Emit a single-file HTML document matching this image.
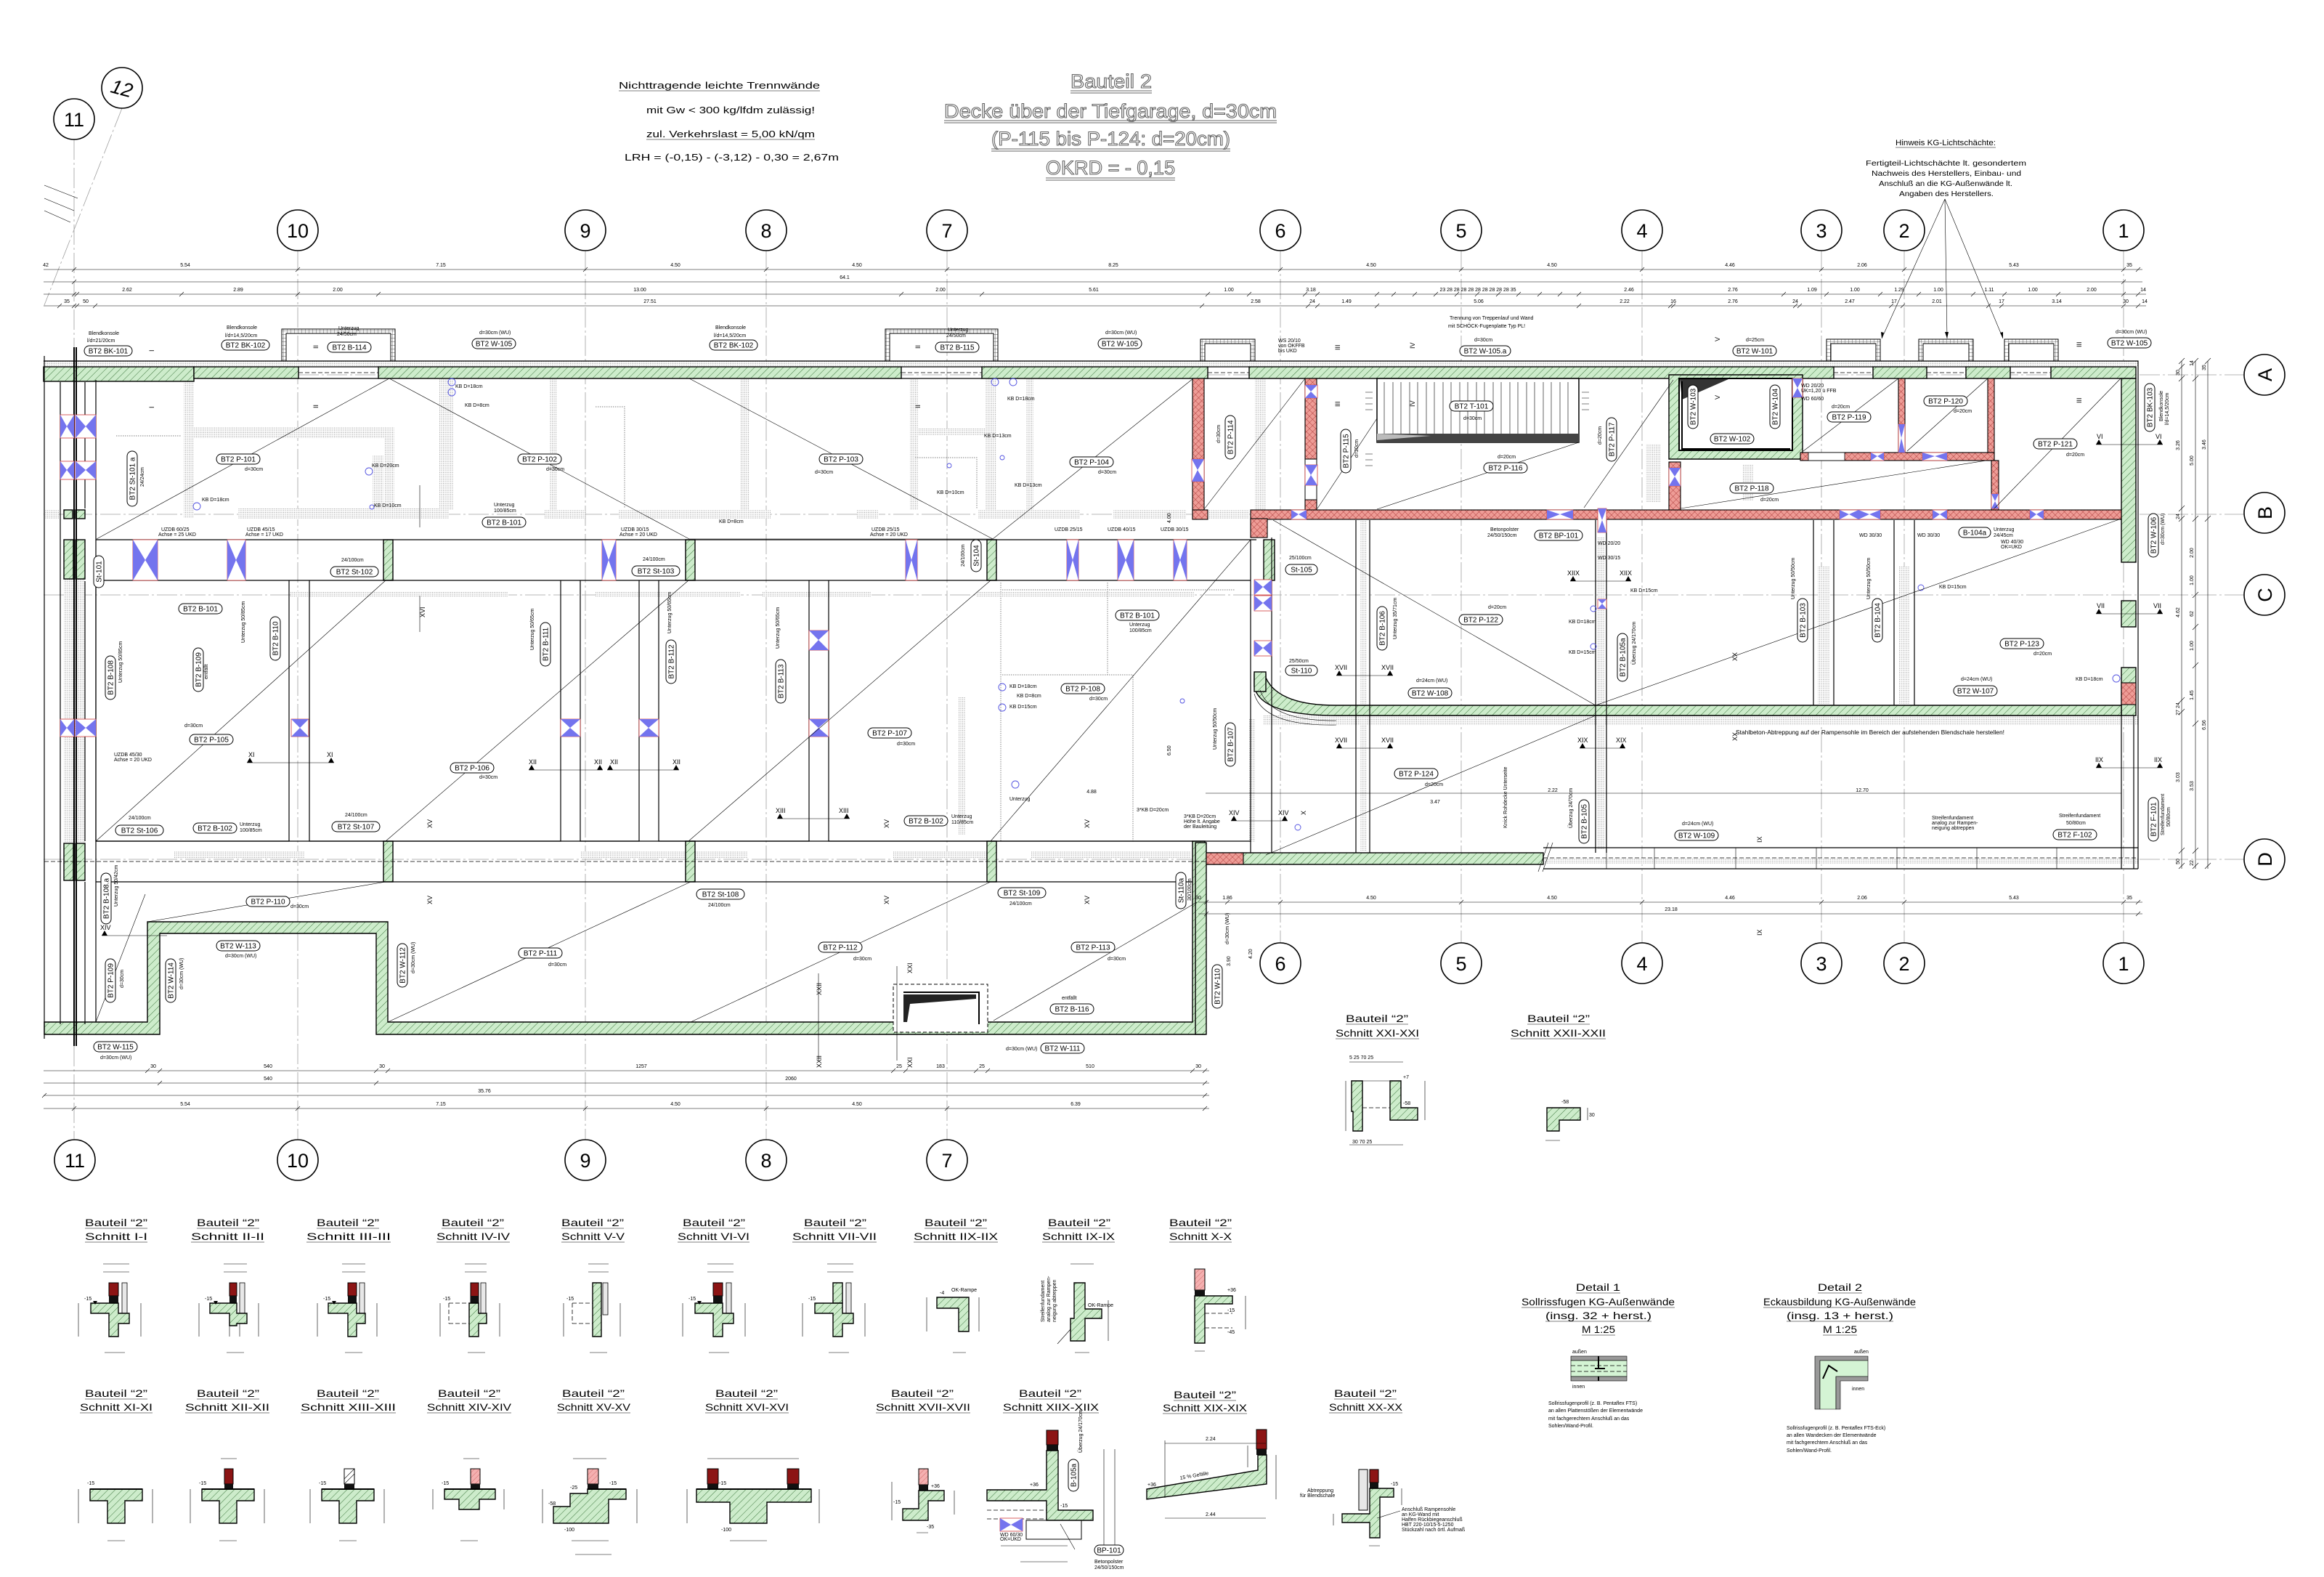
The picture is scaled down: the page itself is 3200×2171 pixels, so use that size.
<!DOCTYPE html>
<html><head><meta charset="utf-8"><title>Bauteil 2 - Decke über der Tiefgarage</title>
<style>
html,body{margin:0;padding:0;background:#fff}
svg{display:block}
text{font-family:"Liberation Sans Narrow","Liberation Sans",sans-serif;fill:#000}
.s{font-size:7px}.m{font-size:10px}.n{font-size:8.5px}
.bd rect{fill:#fff;stroke:#000;stroke-width:1}
.bd text{font-size:10px;text-anchor:middle}
.g{fill:url(#gh);stroke:#000;stroke-width:1.4}
.r{fill:url(#rh);stroke:#000;stroke-width:1.1}
.d{fill:url(#dt);stroke:none}
.ln{stroke:#000;fill:none;stroke-width:1.2}
.lk{stroke:#000;fill:none;stroke-width:2}
.th{stroke:#000;fill:none;stroke-width:0.6}
.gr{stroke:#a0a0a0;fill:none;stroke-width:0.8;stroke-dasharray:28 4 3 4}
.dl{stroke:#999;fill:none;stroke-width:1.2;stroke-dasharray:1.5 1.5}
.ds{stroke:#000;fill:none;stroke-width:0.8;stroke-dasharray:6 3}
.bub circle{fill:#fff;stroke:#000;stroke-width:1.6}
.bub text{font-size:27px;text-anchor:middle}
.tt{font-family:"Liberation Sans",sans-serif;font-size:27px;fill:#fff;stroke:#666;stroke-width:1.1;text-anchor:start}
.st{font-size:14px}
.ob{fill:#7474ee}
.oe{fill:#fff;stroke:#d03a3a;stroke-width:0.8}
</style></head><body>
<svg width="3200" height="2171" viewBox="0 0 3200 2171" xmlns="http://www.w3.org/2000/svg">
<defs>
<pattern id="gh" width="7" height="7" patternUnits="userSpaceOnUse" patternTransform="rotate(45)"><rect width="7" height="7" fill="#cdeccb"/><line x1="0" y1="0" x2="0" y2="7" stroke="#2f6b2f" stroke-width="0.9"/></pattern>
<pattern id="rh" width="6" height="6" patternUnits="userSpaceOnUse" patternTransform="rotate(45)"><rect width="6" height="6" fill="#ee9c96"/><path d="M0 0V6M0 0H6" stroke="#a02828" stroke-width="0.8"/></pattern>
<pattern id="dt" width="2.5" height="2.5" patternUnits="userSpaceOnUse"><rect width="2.5" height="2.5" fill="#fff"/><rect width="1.1" height="1.1" fill="#a4a4a4"/></pattern>
<pattern id="gp" width="5" height="5" patternUnits="userSpaceOnUse"><rect width="5" height="5" fill="#fff"/><path d="M0 0H5M0 0V5" stroke="#333" stroke-width="0.7"/></pattern>
<pattern id="ph" width="5" height="5" patternUnits="userSpaceOnUse" patternTransform="rotate(45)"><rect width="5" height="5" fill="#f4b0b0"/><line x1="0" y1="0" x2="0" y2="5" stroke="#c04040" stroke-width="0.6"/></pattern>
</defs>
<rect width="3200" height="2171" fill="#fff"/>

<!-- ===== Header notes ===== -->
<text x="852" y="122" font-size="13" textLength="277" lengthAdjust="spacingAndGlyphs">Nichttragende leichte Trennwände</text>
<line x1="852" y1="125" x2="1129" y2="125" class="th"/>
<text x="890" y="156" font-size="13" textLength="232" lengthAdjust="spacingAndGlyphs">mit Gw &lt; 300 kg/lfdm zulässig!</text>
<text x="890" y="189" font-size="13" textLength="232" lengthAdjust="spacingAndGlyphs">zul. Verkehrslast = 5,00 kN/qm</text>
<line x1="890" y1="192" x2="1122" y2="192" class="th"/>
<text x="860" y="221" font-size="13" textLength="295" lengthAdjust="spacingAndGlyphs">LRH = (-0,15) - (-3,12) - 0,30 = 2,67m</text>

<text class="tt" x="1474" y="121" textLength="112" lengthAdjust="spacingAndGlyphs">Bauteil 2</text>
<path d="M1474 125H1586M1474 128H1586" stroke="#666" stroke-width="1"/>
<text class="tt" x="1300" y="162" textLength="458" lengthAdjust="spacingAndGlyphs">Decke über der Tiefgarage, d=30cm</text>
<path d="M1300 166H1758M1300 169H1758" stroke="#666" stroke-width="1"/>
<text class="tt" x="1365" y="200" textLength="329" lengthAdjust="spacingAndGlyphs">(P-115 bis P-124: d=20cm)</text>
<path d="M1365 205H1694M1365 208H1694" stroke="#666" stroke-width="1"/>
<text class="tt" x="1440" y="240" textLength="178" lengthAdjust="spacingAndGlyphs">OKRD = - 0,15</text>
<path d="M1440 245H1618M1440 248H1618" stroke="#666" stroke-width="1"/>

<text x="2610" y="200" font-size="11" textLength="138" lengthAdjust="spacingAndGlyphs">Hinweis KG-Lichtschächte:</text>
<line x1="2610" y1="203" x2="2748" y2="203" class="th"/>
<text x="2569" y="228" font-size="10" textLength="221" lengthAdjust="spacingAndGlyphs">Fertigteil-Lichtschächte lt. gesondertem</text>
<text x="2577" y="242" font-size="10" textLength="206" lengthAdjust="spacingAndGlyphs">Nachweis des Herstellers, Einbau- und</text>
<text x="2587" y="256" font-size="10" textLength="184" lengthAdjust="spacingAndGlyphs">Anschluß an die KG-Außenwände lt.</text>
<text x="2615" y="270" font-size="10" textLength="130" lengthAdjust="spacingAndGlyphs">Angaben des Herstellers.</text>
<path class="th" d="M2678 274L2591 466M2678 274L2681 466M2678 274L2758 466"/>
<path d="M2591 466l-1-9 4 1zM2681 466l-3-9h5zM2758 466l-4-8 4-1z"/>

<!-- ===== grid lines ===== -->
<g class="gr">
<path d="M102 192V1569M168 149L61 420"/>
<path d="M410 345V1569M806 345V1569M1055 345V1569M1304 345V1569"/>
<path d="M1763 345V1298M2012 345V1298M2261 345V1298M2508 345V1298M2622 345V1298M2924 345V1298"/>
<path d="M60 516H3090M60 708H3090M60 819H3090M60 1183H3090"/>
</g>
<path class="th" d="M61 255L107 273M61 273L102 290M61 290L97 306"/>

<!-- ===== Bubbles ===== -->
<g class="bub">
<circle cx="102" cy="164" r="28"/><text x="102" y="174">11</text>
<circle cx="168" cy="121" r="28"/><text x="168" y="131" transform="rotate(15 168 121)" font-style="italic">12</text>
<circle cx="410" cy="317" r="28"/><text x="410" y="327">10</text>
<circle cx="806" cy="317" r="28"/><text x="806" y="327">9</text>
<circle cx="1055" cy="317" r="28"/><text x="1055" y="327">8</text>
<circle cx="1304" cy="317" r="28"/><text x="1304" y="327">7</text>
<circle cx="1763" cy="317" r="28"/><text x="1763" y="327">6</text>
<circle cx="2012" cy="317" r="28"/><text x="2012" y="327">5</text>
<circle cx="2261" cy="317" r="28"/><text x="2261" y="327">4</text>
<circle cx="2508" cy="317" r="28"/><text x="2508" y="327">3</text>
<circle cx="2622" cy="317" r="28"/><text x="2622" y="327">2</text>
<circle cx="2924" cy="317" r="28"/><text x="2924" y="327">1</text>
<circle cx="1763" cy="1326" r="28"/><text x="1763" y="1336">6</text>
<circle cx="2012" cy="1326" r="28"/><text x="2012" y="1336">5</text>
<circle cx="2261" cy="1326" r="28"/><text x="2261" y="1336">4</text>
<circle cx="2508" cy="1326" r="28"/><text x="2508" y="1336">3</text>
<circle cx="2622" cy="1326" r="28"/><text x="2622" y="1336">2</text>
<circle cx="2924" cy="1326" r="28"/><text x="2924" y="1336">1</text>
<circle cx="103" cy="1597" r="28"/><text x="103" y="1607">11</text>
<circle cx="410" cy="1597" r="28"/><text x="410" y="1607">10</text>
<circle cx="806" cy="1597" r="28"/><text x="806" y="1607">9</text>
<circle cx="1055" cy="1597" r="28"/><text x="1055" y="1607">8</text>
<circle cx="1304" cy="1597" r="28"/><text x="1304" y="1607">7</text>
<circle cx="3118" cy="516" r="28"/><text x="3118" y="526" transform="rotate(-90 3118 516)">A</text>
<circle cx="3118" cy="706" r="28"/><text x="3118" y="716" transform="rotate(-90 3118 706)">B</text>
<circle cx="3118" cy="819" r="28"/><text x="3118" y="829" transform="rotate(-90 3118 819)">C</text>
<circle cx="3118" cy="1183" r="28"/><text x="3118" y="1193" transform="rotate(-90 3118 1183)">D</text>
</g>

<!-- ===== Top dimension chains ===== -->
<g class="th">
<path d="M60 371H2950M60 388H2950M60 405H2955M60 421H2955"/>
<path d="M99 374l6-6M407 374l6-6M803 374l6-6M1052 374l6-6M1301 374l6-6M1760 374l6-6M2009 374l6-6M2258 374l6-6M2505 374l6-6M2619 374l6-6M2921 374l6-6M2941 374l6-6"/>
<path d="M99 391l6-6M2921 391l6-6"/>
<path d="M99 408l6-6M103 408l6-6M247 408l6-6M407 408l6-6M518 408l6-6M1238 408l6-6M1349 408l6-6M1660 408l6-6M1717 408l6-6M1794 408l6-6M1811 408l6-6M1893 408l6-6M1916 408l6-6M1945 408l6-6M1974 408l6-6M2003 408l6-6M2031 408l6-6M2060 408l6-6M2088 408l6-6M2117 408l6-6M2145 408l6-6M2171 408l6-6M2453 408l6-6M2512 408l6-6M2586 408l6-6M2639 408l6-6M2714 408l6-6M2757 408l6-6M2831 408l6-6M2921 408l6-6M2941 408l6-6"/>
<path d="M79 424l6-6M99 424l6-6M103 424l6-6M128 424l6-6M1652 424l6-6M1798 424l6-6M1811 424l6-6M1893 424l6-6M2171 424l6-6M2297 424l6-6M2301 424l6-6M2469 424l6-6M2475 424l6-6M2601 424l6-6M2617 424l6-6M2735 424l6-6M2753 424l6-6M2921 424l6-6M2941 424l6-6"/>
</g>
<g class="s" text-anchor="middle">
<text x="63" y="367">42</text><text x="255" y="367">5.54</text><text x="607" y="367">7.15</text><text x="930" y="367">4.50</text><text x="1180" y="367">4.50</text><text x="1533" y="367">8.25</text><text x="1888" y="367">4.50</text><text x="2137" y="367">4.50</text><text x="2382" y="367">4.46</text><text x="2564" y="367">2.06</text><text x="2773" y="367">5.43</text><text x="2932" y="367">35</text>
<text x="1163" y="384">64.1</text>
<text x="175" y="401">2.62</text><text x="328" y="401">2.89</text><text x="465" y="401">2.00</text><text x="881" y="401">13.00</text><text x="1295" y="401">2.00</text><text x="1506" y="401">5.61</text><text x="1692" y="401">1.00</text><text x="1805" y="401">3.18</text><text x="2035" y="401">23 28 28 28 28 28 28 28 28 28 35</text><text x="2243" y="401">2.46</text><text x="2386" y="401">2.76</text><text x="2495" y="401">1.09</text><text x="2554" y="401">1.00</text><text x="2615" y="401">1.29</text><text x="2669" y="401">1.00</text><text x="2739" y="401">1.11</text><text x="2799" y="401">1.00</text><text x="2880" y="401">2.00</text><text x="2951" y="401">14</text>
<text x="92" y="417">35</text><text x="118" y="417">50</text><text x="895" y="417">27.51</text><text x="1729" y="417">2.58</text><text x="1807" y="417">24</text><text x="1854" y="417">1.49</text><text x="2036" y="417">5.06</text><text x="2237" y="417">2.22</text><text x="2304" y="417">16</text><text x="2386" y="417">2.76</text><text x="2472" y="417">24</text><text x="2547" y="417">2.47</text><text x="2608" y="417">17</text><text x="2667" y="417">2.01</text><text x="2756" y="417">17</text><text x="2832" y="417">3.14</text><text x="2927" y="417">30</text><text x="2953" y="417">14</text>
</g>

<!-- ===== Light shafts ===== -->
<g fill="url(#gp)" stroke="#000" stroke-width="1" fill-rule="evenodd">
<path d="M388 453H544V505H538V459H394V505H388Z"/>
<path d="M1219 453H1374V505H1368V459H1225V505H1219Z"/>
<path d="M1653 467H1728V505H1722V473H1659V505H1653Z"/>
<path d="M2515 467H2589V505H2583V473H2521V505H2515Z"/>
<path d="M2642 467H2717V505H2711V473H2648V505H2642Z"/>
<path d="M2760 467H2834V505H2828V473H2766V505H2760Z"/>
</g>

<!-- ===== stipple bands ===== -->
<g class="d">
<rect x="60" y="497" width="2884" height="8"/>
<rect x="253" y="521" width="14" height="192"/><rect x="612" y="521" width="12" height="181"/><rect x="757" y="521" width="10" height="181"/><rect x="1020" y="521" width="12" height="181"/><rect x="1253" y="521" width="12" height="181"/><rect x="1413" y="521" width="10" height="181"/>
<rect x="253" y="588" width="290" height="15"/><rect x="530" y="588" width="13" height="125"/><rect x="513" y="627" width="15" height="86"/><rect x="605" y="520" width="13" height="195"/>
<rect x="1255" y="590" width="117" height="10"/><rect x="1357" y="521" width="15" height="190"/>
<rect x="328" y="700" width="290" height="15"/><rect x="61" y="702" width="20" height="12"/>
<rect x="750" y="702" width="56" height="12"/><rect x="852" y="702" width="209" height="12"/><rect x="1180" y="702" width="30" height="12"/><rect x="1347" y="702" width="140" height="12"/><rect x="1533" y="702" width="100" height="12"/>
<rect x="400" y="814" width="300" height="8"/><rect x="820" y="814" width="200" height="8"/><rect x="1050" y="814" width="150" height="8"/><rect x="1345" y="814" width="300" height="8"/>
<rect x="240" y="1172" width="180" height="10"/><rect x="800" y="1172" width="230" height="10"/><rect x="1230" y="1172" width="140" height="10"/><rect x="1420" y="1172" width="220" height="10"/>
<rect x="88" y="780" width="29" height="380"/>
<rect x="1728" y="521" width="15" height="181"/><rect x="1873" y="716" width="9" height="455"/><rect x="2200" y="740" width="10" height="430"/><rect x="2503" y="780" width="17" height="190"/><rect x="2614" y="780" width="16" height="190"/><rect x="2266" y="611" width="20" height="80"/><rect x="2400" y="640" width="14" height="50"/>
<rect x="1740" y="985" width="1204" height="13"/>
<rect x="2125" y="1181" width="819" height="9"/>
<rect x="1661" y="702" width="59" height="12"/>
<rect x="1320" y="960" width="10" height="190"/><rect x="1720" y="990" width="8" height="170"/>
</g>
<g class="dl">
<path d="M1378 802V1159M1380 929H1560M1525 802V929M1560 929V1158M1380 812H1700"/>
<path d="M1260 630H1345V700M820 560H860V700M160 600H250"/>
</g>

<!-- ===== Main walls (green) ===== -->
<g class="g">
<rect x="60" y="505" width="207" height="20"/>
<rect x="267" y="505" width="144" height="16"/>
<rect x="521" y="505" width="720" height="16"/>
<rect x="1352" y="505" width="311" height="16"/>
<rect x="1720" y="505" width="805" height="16"/>
<rect x="2579" y="505" width="74" height="16"/>
<rect x="2707" y="505" width="61" height="16"/>
<rect x="2824" y="505" width="117" height="16"/>
<rect x="2921" y="521" width="20" height="253"/>
<rect x="2921" y="827" width="20" height="36"/>
<rect x="2921" y="919" width="20" height="66"/>
<path d="M61 1407H203V1269H534V1407H1642V1158H1659V1424H518V1285H220V1424H61Z"/>
<path d="M1743 933Q1760 971 1840 971H2921V985H1840Q1735 985 1727 945V928H1743Z"/>
<rect x="1661" y="1174" width="464" height="16"/>
<rect x="1646" y="1160" width="15" height="264"/>
<path fill-rule="evenodd" d="M2298 516H2482V632H2298ZM2312 521H2468V620H2312Z"/>
<rect x="1727" y="925" width="16" height="27"/>
<rect x="1740" y="743" width="15" height="56"/>
<rect x="88" y="743" width="13" height="54"/><rect x="104" y="743" width="13" height="54"/>
<rect x="88" y="1161" width="13" height="51"/><rect x="104" y="1161" width="13" height="51"/>
<rect x="88" y="702" width="12" height="12"/><rect x="104" y="702" width="13" height="12"/>
<rect x="528" y="743" width="13" height="56"/><rect x="944" y="743" width="13" height="56"/><rect x="1359" y="743" width="13" height="56"/>
<rect x="528" y="1158" width="13" height="56"/><rect x="944" y="1158" width="13" height="56"/><rect x="1359" y="1158" width="13" height="56"/>
</g>
<!-- gaps under shafts -->
<g class="ds"><path d="M411 513H521M1241 513H1352M1663 513H1720M2525 513H2579M2653 513H2707M2768 513H2824"/></g>
<path class="ln" d="M60 497H2944V1196M411 505H521M411 521H521M1241 505H1352M1241 521H1352M1663 505H1720M1663 521H1720M2525 505H2579M2525 521H2579M2653 505H2707M2653 521H2707M2768 505H2824M2768 521H2824"/>

<!-- ===== Red brick walls ===== -->
<g class="r">
<rect x="1642" y="521" width="16" height="193"/>
<rect x="1797" y="521" width="16" height="111"/>
<rect x="1797" y="688" width="16" height="26"/>
<rect x="1722" y="702" width="1199" height="13"/>
<rect x="1642" y="702" width="21" height="13"/>
<rect x="1722" y="714" width="23" height="26"/>
<rect x="2614" y="521" width="9" height="102"/>
<rect x="2737" y="521" width="9" height="113"/>
<rect x="2479" y="623" width="267" height="11"/>
<rect x="2298" y="636" width="16" height="66"/>
<rect x="2742" y="634" width="10" height="68"/>
<rect x="1661" y="1174" width="51" height="16"/>
<rect x="2921" y="940" width="20" height="30"/>
</g>
<rect x="1797" y="632" width="16" height="56" fill="#fff" stroke="#000"/>
<rect x="2490" y="623" width="50" height="11" fill="#fff" stroke="#000" stroke-width=".8"/>

<!-- Stair -->
<rect x="1896" y="521" width="278" height="88" fill="#fff" stroke="#000" stroke-width="1.5"/>
<path class="th" d="M1906 526V597M1918 526V597M1929 526V597M1941 526V597M1952 526V597M1964 526V597M1975 526V597M1987 526V597M1998 526V597M2010 526V597M2021 526V597M2033 526V597M2044 526V597M2056 526V597M2067 526V597M2079 526V597M2090 526V597M2102 526V597M2113 526V597M2125 526V597M2136 526V597M2148 526V597M2159 526V597"/>
<path d="M1896 597H2174L2174 609H1896Z" fill="#444"/>
<path d="M1896 597L1970 600L1896 606Z" fill="#bbb"/>
<path class="th" d="M1880 540h10M1880 548h10M1880 556h10M1880 564h10M2178 540h10M2178 548h10M2178 556h10M2178 564h10M1880 625h10M1880 633h10M1880 641h10"/>
<!-- elevator inner -->
<path d="M2312 521H2468V620H2312Z" fill="#fff" stroke="#000" stroke-width="2"/>
<path d="M2313 522L2380 522L2316 550Z" fill="#333"/>
<path class="lk" d="M2316 525V618H2465"/>

<!-- ===== left structure lines ===== -->
<path class="lk" d="M102 478V1440M105 478V1440"/>
<path class="ln" d="M61 490V1430M83 526V1410M117 526V700M132 523V1407M117 800V1158M117 1214V1410"/>
<!-- row B band -->
<path class="ln" d="M132 743H1730M132 799H1722"/>
<!-- rooms -->
<path class="ln" d="M132 799V1158H398V799M426 799V1158H772V799M799 799V1158H880V799M907 799V1158H1114V799M1141 799V1158H1722"/>
<path class="ln" d="M132 1158H1642M132 1214H1642"/>
<path class="ds" d="M61 1186H1660"/>
<path class="ln" d="M1722 743V1174M1751 740V1174M1867 716V1174M1886 716V1174M2197 716V1174M2212 716V1174M2497 716V971M2525 716V971M2608 716V971M2636 716V971"/>
<!-- right lower -->
<path class="ln" d="M2125 1167H2944M2125 1196H2944M2921 985V1196M2938 985V1196"/>
<path class="ds" d="M2125 1181H2944"/>
<path class="th" d="M2212 1167V1196M2278 1167V1196M2390 1167V1196M2501 1167V1196M2612 1167V1196M2722 1167V1196M2832 1167V1196M2118 1200L2132 1160M2124 1200L2138 1160"/>
<path class="th" d="M1727 955Q1740 1000 1840 998M1735 950Q1750 993 1840 992"/>
<path class="th" d="M1660 1092H2921"/>
<!-- opening box in W-111 -->
<rect x="1230" y="1355" width="130" height="66" fill="#fff" stroke="#000" stroke-dasharray="5 3"/>
<path d="M1244 1369H1344V1375L1253 1382L1249 1407H1244Z" fill="#222"/>
<path class="lk" d="M1244 1366H1348V1410"/>

<!-- ===== Openings (bowties) ===== -->
<g>
<g class="oe"><rect x="183" y="743" width="34" height="56"/><rect x="313" y="743" width="25" height="56"/><rect x="829" y="743" width="19" height="56"/><rect x="1247" y="743" width="16" height="56"/><rect x="1469" y="743" width="16" height="56"/><rect x="1539" y="743" width="22" height="56"/><rect x="1616" y="743" width="18" height="56"/>
<rect x="83" y="571" width="19" height="32"/><rect x="104" y="571" width="28" height="32"/><rect x="83" y="635" width="19" height="25"/><rect x="104" y="635" width="28" height="25"/><rect x="83" y="990" width="19" height="24"/><rect x="104" y="990" width="28" height="24"/>
<rect x="1778" y="702" width="21" height="13"/><rect x="2130" y="702" width="36" height="13"/><rect x="2533" y="702" width="26" height="13"/><rect x="2559" y="702" width="30" height="13"/><rect x="2661" y="702" width="20" height="13"/><rect x="2795" y="702" width="19" height="13"/>
<rect x="1727" y="798" width="24" height="21"/><rect x="1727" y="820" width="24" height="21"/><rect x="1727" y="882" width="24" height="21"/>
<rect x="2576" y="623" width="18" height="11"/><rect x="2647" y="623" width="34" height="11"/>
</g>
<path class="ob" d="M183 743L200 771L183 799ZM217 743L200 771L217 799ZM313 743L325 771L313 799ZM338 743L325 771L338 799ZM829 743L838 771L829 799ZM848 743L838 771L848 799ZM1247 743L1255 771L1247 799ZM1263 743L1255 771L1263 799ZM1469 743L1477 771L1469 799ZM1485 743L1477 771L1485 799ZM1539 743L1550 771L1539 799ZM1561 743L1550 771L1561 799ZM1616 743L1625 771L1616 799ZM1634 743L1625 771L1634 799Z"/>
<path class="ob" d="M83 571L92 587L83 603ZM102 571L92 587L102 603ZM104 571L118 587L104 603ZM132 571L118 587L132 603ZM83 635L92 647L83 660ZM102 635L92 647L102 660ZM104 635L118 647L104 660ZM132 635L118 647L132 660ZM83 990L92 1002L83 1014ZM102 990L92 1002L102 1014ZM104 990L118 1002L104 1014ZM132 990L118 1002L132 1014Z"/>
<path class="ob" d="M1778 702L1788 708L1778 715ZM1799 702L1788 708L1799 715ZM2130 702L2148 708L2130 715ZM2166 702L2148 708L2166 715ZM2533 702L2546 708L2533 715ZM2559 702L2546 708L2559 715ZM2559 702L2574 708L2559 715ZM2589 702L2574 708L2589 715ZM2661 702L2671 708L2661 715ZM2681 702L2671 708L2681 715ZM2795 702L2804 708L2795 715ZM2814 702L2804 708L2814 715Z"/>
<path class="ob" d="M1727 798L1739 808L1727 819ZM1751 798L1739 808L1751 819ZM1727 820L1739 830L1727 841ZM1751 820L1739 830L1751 841ZM1727 882L1739 892L1727 903ZM1751 882L1739 892L1751 903ZM2576 623L2585 628L2576 634ZM2594 623L2585 628L2594 634ZM2647 623L2664 628L2647 634ZM2681 623L2664 628L2681 634Z"/>
<g class="oe"><rect x="401" y="990" width="24" height="24"/><rect x="772" y="990" width="27" height="24"/><rect x="880" y="990" width="27" height="24"/><rect x="1114" y="868" width="27" height="27"/><rect x="1114" y="990" width="27" height="24"/>
<rect x="1641" y="632" width="17" height="31"/><rect x="1797" y="530" width="17" height="18"/><rect x="1797" y="640" width="17" height="28"/><rect x="2200" y="700" width="12" height="33"/><rect x="2200" y="825" width="12" height="13"/><rect x="2298" y="644" width="16" height="25"/><rect x="2468" y="521" width="14" height="26"/><rect x="2742" y="680" width="10" height="20"/><rect x="2614" y="584" width="9" height="39"/></g>
<path class="ob" d="M401 990H425L413 1002ZM401 1014H425L413 1002ZM772 990H799L785 1002ZM772 1014H799L785 1002ZM880 990H907L893 1002ZM880 1014H907L893 1002ZM1114 868H1141L1127 881ZM1114 895H1141L1127 881ZM1114 990H1141L1127 1002ZM1114 1014H1141L1127 1002Z"/>
<path class="ob" d="M1641 632H1658L1649 647ZM1641 663H1658L1649 647ZM1797 530H1814L1805 539ZM1797 548H1814L1805 539ZM1797 640H1814L1805 654ZM1797 668H1814L1805 654ZM2200 700H2212L2206 716ZM2200 733H2212L2206 716ZM2200 825H2212L2206 831ZM2200 838H2212L2206 831ZM2298 644H2314L2306 656ZM2298 669H2314L2306 656ZM2468 521H2482L2475 534ZM2468 547H2482L2475 534ZM2742 680H2752L2747 690ZM2742 700H2752L2747 690ZM2614 584H2623L2618 603ZM2614 623H2623L2618 603Z"/>
</g>

<!-- KB circles -->
<g stroke="#5050e0" fill="none" stroke-width="0.9">
<circle cx="271" cy="697" r="5"/><circle cx="508" cy="649" r="5"/><circle cx="512" cy="698" r="3"/><circle cx="622" cy="526" r="5"/><circle cx="622" cy="540" r="5"/><circle cx="1307" cy="641" r="3"/><circle cx="1380" cy="630" r="3"/><circle cx="1370" cy="526" r="5"/><circle cx="1395" cy="526" r="5"/>
<circle cx="1380" cy="946" r="5"/><circle cx="1380" cy="974" r="5"/><circle cx="1398" cy="1080" r="5"/><circle cx="1628" cy="965" r="3"/>
<circle cx="2194" cy="838" r="4"/><circle cx="2194" cy="890" r="4"/><circle cx="2645" cy="809" r="4"/><circle cx="2914" cy="934" r="5"/><circle cx="1787" cy="1139" r="4"/>
</g>

<!-- ===== diagonal slab lines ===== -->
<g class="th">
<path d="M133 742L536 521L949 742L1367 742L1643 521M949 521L1367 742"/>
<path d="M132 1158L531 799M531 1158L948 799M948 1158L1364 799M1364 1158L1722 743"/>
<path d="M203 1269L531 1214M534 1407L951 1214M951 1407L1364 1214M1368 1405L1648 1242M132 1407L200 1231"/>
<path d="M1658 701L1797 521M1814 700L1896 576M1896 701L2174 609M2181 699L2304 523"/>
<path d="M2314 700L2735 634M2483 621L2614 521M2626 621L2737 521M2746 700L2920 521"/>
<path d="M1753 716L2197 971L2921 714M1743 1177L2197 985"/>
</g>

<!-- ===== right side dims ===== -->
<g class="th">
<path d="M3004 497V1196M3023 497V1196M3040 497V1196"/>
<path d="M3000 501l8-8M3000 509l8-8M3000 525l8-8M3000 704l8-8M3000 718l8-8M3000 968l8-8M3000 984l8-8M3000 1175l8-8M3000 1196l8-8M3019 501l8-8M3019 525l8-8M3019 718l8-8M3019 823l8-8M3019 867l8-8M3019 920l8-8M3019 1000l8-8M3019 1175l8-8M3019 1196l8-8M3036 501l8-8M3036 718l8-8M3036 1196l8-8"/>
</g>
<g class="s" text-anchor="middle">
<text transform="translate(3001 513) rotate(-90)">30</text><text transform="translate(3001 613) rotate(-90)">3.26</text><text transform="translate(3001 711) rotate(-90)">24</text><text transform="translate(3001 843) rotate(-90)">4.62</text><text transform="translate(3001 976) rotate(-90)">27 24</text><text transform="translate(3001 1070) rotate(-90)">3.03</text><text transform="translate(3001 1186) rotate(-90)">50</text>
<text transform="translate(3020 500) rotate(-90)">14</text><text transform="translate(3020 634) rotate(-90)">5.00</text><text transform="translate(3020 761) rotate(-90)">2.00</text><text transform="translate(3020 799) rotate(-90)">1.00</text><text transform="translate(3020 845) rotate(-90)">62</text><text transform="translate(3020 889) rotate(-90)">1.00</text><text transform="translate(3020 957) rotate(-90)">1.45</text><text transform="translate(3020 1082) rotate(-90)">3.53</text><text transform="translate(3020 1188) rotate(-90)">22</text>
<text transform="translate(3037 506) rotate(-90)">35</text><text transform="translate(3037 612) rotate(-90)">3.46</text><text transform="translate(3037 998) rotate(-90)">6.56</text>
</g>

<!-- ===== bottom dims ===== -->
<g class="th">
<path d="M1650 1242H2950M1650 1258H2950"/>
<path d="M1658 1245l6-6M1687 1245l6-6M1760 1245l6-6M2009 1245l6-6M2258 1245l6-6M2505 1245l6-6M2619 1245l6-6M2921 1245l6-6M2941 1245l6-6M1658 1261l6-6M2941 1261l6-6"/>
<path d="M60 1474H1665M60 1491H1665M60 1508H1665M60 1526H1665"/>
<path d="M200 1477l6-6M217 1477l6-6M515 1477l6-6M531 1477l6-6M1227 1477l6-6M1244 1477l6-6M1341 1477l6-6M1357 1477l6-6M1639 1477l6-6M1656 1477l6-6M217 1494l6-6M515 1494l6-6M1656 1494l6-6M58 1511l6-6M1656 1511l6-6M99 1529l6-6M407 1529l6-6M803 1529l6-6M1052 1529l6-6M1301 1529l6-6M1656 1529l6-6"/>
</g>
<g class="s" text-anchor="middle">
<text x="1690" y="1238">1.86</text><text x="1888" y="1238">4.50</text><text x="2137" y="1238">4.50</text><text x="2382" y="1238">4.46</text><text x="2564" y="1238">2.06</text><text x="2773" y="1238">5.43</text><text x="2932" y="1238">35</text><text x="2301" y="1254">23.18</text>
<text x="211" y="1470">30</text><text x="369" y="1470">540</text><text x="526" y="1470">30</text><text x="883" y="1470">1257</text><text x="1238" y="1470">25</text><text x="1295" y="1470">183</text><text x="1352" y="1470">25</text><text x="1501" y="1470">510</text><text x="1650" y="1470">30</text>
<text x="369" y="1487">540</text><text x="1089" y="1487">2060</text><text x="667" y="1504">35.76</text>
<text x="255" y="1522">5.54</text><text x="607" y="1522">7.15</text><text x="930" y="1522">4.50</text><text x="1180" y="1522">4.50</text><text x="1481" y="1522">6.39</text>
<text x="1650" y="1238">30</text><text x="1503" y="1092">4.88</text><text x="2564" y="1090">12.70</text><text x="2138" y="1090">2.22</text><text x="1976" y="1106">3.47</text>
</g>

<!-- ===== Badges ===== -->
<g class="bd">
<g transform="translate(149,483)"><rect x="-33" y="-7" width="66" height="14" rx="7"/><text y="3.5">BT2 BK-101</text></g>
<g transform="translate(338,475)"><rect x="-33" y="-7" width="66" height="14" rx="7"/><text y="3.5">BT2 BK-102</text></g>
<g transform="translate(481,478)"><rect x="-30" y="-7" width="60" height="14" rx="7"/><text y="3.5">BT2 B-114</text></g>
<g transform="translate(680,473)"><rect x="-30" y="-7" width="60" height="14" rx="7"/><text y="3.5">BT2 W-105</text></g>
<g transform="translate(1010,475)"><rect x="-33" y="-7" width="66" height="14" rx="7"/><text y="3.5">BT2 BK-102</text></g>
<g transform="translate(1318,478)"><rect x="-30" y="-7" width="60" height="14" rx="7"/><text y="3.5">BT2 B-115</text></g>
<g transform="translate(1542,473)"><rect x="-30" y="-7" width="60" height="14" rx="7"/><text y="3.5">BT2 W-105</text></g>
<g transform="translate(328,632)"><rect x="-30" y="-7" width="60" height="14" rx="7"/><text y="3.5">BT2 P-101</text></g>
<g transform="translate(743,632)"><rect x="-30" y="-7" width="60" height="14" rx="7"/><text y="3.5">BT2 P-102</text></g>
<g transform="translate(1158,632)"><rect x="-30" y="-7" width="60" height="14" rx="7"/><text y="3.5">BT2 P-103</text></g>
<g transform="translate(1503,636)"><rect x="-30" y="-7" width="60" height="14" rx="7"/><text y="3.5">BT2 P-104</text></g>
<g transform="translate(694,719)"><rect x="-30" y="-7" width="60" height="14" rx="7"/><text y="3.5">BT2 B-101</text></g>
<g transform="translate(488,787)"><rect x="-33" y="-7" width="66" height="14" rx="7"/><text y="3.5">BT2 St-102</text></g>
<g transform="translate(903,786)"><rect x="-33" y="-7" width="66" height="14" rx="7"/><text y="3.5">BT2 St-103</text></g>
<g transform="translate(276,838)"><rect x="-30" y="-7" width="60" height="14" rx="7"/><text y="3.5">BT2 B-101</text></g>
<g transform="translate(1566,847)"><rect x="-30" y="-7" width="60" height="14" rx="7"/><text y="3.5">BT2 B-101</text></g>
<g transform="translate(291,1018)"><rect x="-30" y="-7" width="60" height="14" rx="7"/><text y="3.5">BT2 P-105</text></g>
<g transform="translate(650,1057)"><rect x="-30" y="-7" width="60" height="14" rx="7"/><text y="3.5">BT2 P-106</text></g>
<g transform="translate(1225,1009)"><rect x="-30" y="-7" width="60" height="14" rx="7"/><text y="3.5">BT2 P-107</text></g>
<g transform="translate(1491,948)"><rect x="-30" y="-7" width="60" height="14" rx="7"/><text y="3.5">BT2 P-108</text></g>
<g transform="translate(192,1143)"><rect x="-33" y="-7" width="66" height="14" rx="7"/><text y="3.5">BT2 St-106</text></g>
<g transform="translate(296,1140)"><rect x="-30" y="-7" width="60" height="14" rx="7"/><text y="3.5">BT2 B-102</text></g>
<g transform="translate(490,1138)"><rect x="-33" y="-7" width="66" height="14" rx="7"/><text y="3.5">BT2 St-107</text></g>
<g transform="translate(1275,1130)"><rect x="-30" y="-7" width="60" height="14" rx="7"/><text y="3.5">BT2 B-102</text></g>
<g transform="translate(369,1241)"><rect x="-30" y="-7" width="60" height="14" rx="7"/><text y="3.5">BT2 P-110</text></g>
<g transform="translate(992,1231)"><rect x="-33" y="-7" width="66" height="14" rx="7"/><text y="3.5">BT2 St-108</text></g>
<g transform="translate(1407,1229)"><rect x="-33" y="-7" width="66" height="14" rx="7"/><text y="3.5">BT2 St-109</text></g>
<g transform="translate(328,1302)"><rect x="-30" y="-7" width="60" height="14" rx="7"/><text y="3.5">BT2 W-113</text></g>
<g transform="translate(744,1312)"><rect x="-30" y="-7" width="60" height="14" rx="7"/><text y="3.5">BT2 P-111</text></g>
<g transform="translate(1157,1304)"><rect x="-30" y="-7" width="60" height="14" rx="7"/><text y="3.5">BT2 P-112</text></g>
<g transform="translate(1505,1304)"><rect x="-30" y="-7" width="60" height="14" rx="7"/><text y="3.5">BT2 P-113</text></g>
<g transform="translate(1476,1389)"><rect x="-30" y="-7" width="60" height="14" rx="7"/><text y="3.5">BT2 B-116</text></g>
<g transform="translate(159,1441)"><rect x="-30" y="-7" width="60" height="14" rx="7"/><text y="3.5">BT2 W-115</text></g>
<g transform="translate(1463,1443)"><rect x="-30" y="-7" width="60" height="14" rx="7"/><text y="3.5">BT2 W-111</text></g>
<g transform="translate(2045,483)"><rect x="-35" y="-7" width="70" height="14" rx="7"/><text y="3.5">BT2 W-105.a</text></g>
<g transform="translate(2416,483)"><rect x="-30" y="-7" width="60" height="14" rx="7"/><text y="3.5">BT2 W-101</text></g>
<g transform="translate(2932,472)"><rect x="-30" y="-7" width="60" height="14" rx="7"/><text y="3.5">BT2 W-105</text></g>
<g transform="translate(2026,559)"><rect x="-30" y="-7" width="60" height="14" rx="7"/><text y="3.5">BT2 T-101</text></g>
<g transform="translate(2073,644)"><rect x="-30" y="-7" width="60" height="14" rx="7"/><text y="3.5">BT2 P-116</text></g>
<g transform="translate(2385,604)"><rect x="-30" y="-7" width="60" height="14" rx="7"/><text y="3.5">BT2 W-102</text></g>
<g transform="translate(2546,574)"><rect x="-30" y="-7" width="60" height="14" rx="7"/><text y="3.5">BT2 P-119</text></g>
<g transform="translate(2679,552)"><rect x="-30" y="-7" width="60" height="14" rx="7"/><text y="3.5">BT2 P-120</text></g>
<g transform="translate(2830,611)"><rect x="-30" y="-7" width="60" height="14" rx="7"/><text y="3.5">BT2 P-121</text></g>
<g transform="translate(2412,672)"><rect x="-30" y="-7" width="60" height="14" rx="7"/><text y="3.5">BT2 P-118</text></g>
<g transform="translate(2146,737)"><rect x="-33" y="-7" width="66" height="14" rx="7"/><text y="3.5">BT2 BP-101</text></g>
<g transform="translate(2719,733)"><rect x="-22" y="-7" width="44" height="14" rx="7"/><text y="3.5">B-104a</text></g>
<g transform="translate(1792,784)"><rect x="-22" y="-7" width="44" height="14" rx="7"/><text y="3.5">St-105</text></g>
<g transform="translate(2039,853)"><rect x="-30" y="-7" width="60" height="14" rx="7"/><text y="3.5">BT2 P-122</text></g>
<g transform="translate(1792,923)"><rect x="-22" y="-7" width="44" height="14" rx="7"/><text y="3.5">St-110</text></g>
<g transform="translate(1969,954)"><rect x="-30" y="-7" width="60" height="14" rx="7"/><text y="3.5">BT2 W-108</text></g>
<g transform="translate(2784,886)"><rect x="-30" y="-7" width="60" height="14" rx="7"/><text y="3.5">BT2 P-123</text></g>
<g transform="translate(2720,951)"><rect x="-30" y="-7" width="60" height="14" rx="7"/><text y="3.5">BT2 W-107</text></g>
<g transform="translate(1950,1065)"><rect x="-30" y="-7" width="60" height="14" rx="7"/><text y="3.5">BT2 P-124</text></g>
<g transform="translate(2336,1150)"><rect x="-30" y="-7" width="60" height="14" rx="7"/><text y="3.5">BT2 W-109</text></g>
<g transform="translate(2857,1149)"><rect x="-30" y="-7" width="60" height="14" rx="7"/><text y="3.5">BT2 F-102</text></g>
<g transform="translate(182,659) rotate(-90)"><rect x="-38" y="-7" width="76" height="14" rx="7"/><text y="3.5">BT2 St-101 a</text></g>
<g transform="translate(136,787) rotate(-90)"><rect x="-22" y="-7" width="44" height="14" rx="7"/><text y="3.5">St-101</text></g>
<g transform="translate(1344,765) rotate(-90)"><rect x="-22" y="-7" width="44" height="14" rx="7"/><text y="3.5">St-104</text></g>
<g transform="translate(273,922) rotate(-90)"><rect x="-30" y="-7" width="60" height="14" rx="7"/><text y="3.5">BT2 B-109</text></g>
<g transform="translate(379,879) rotate(-90)"><rect x="-30" y="-7" width="60" height="14" rx="7"/><text y="3.5">BT2 B-110</text></g>
<g transform="translate(152,933) rotate(-90)"><rect x="-30" y="-7" width="60" height="14" rx="7"/><text y="3.5">BT2 B-108</text></g>
<g transform="translate(751,887) rotate(-90)"><rect x="-30" y="-7" width="60" height="14" rx="7"/><text y="3.5">BT2 B-111</text></g>
<g transform="translate(924,911) rotate(-90)"><rect x="-30" y="-7" width="60" height="14" rx="7"/><text y="3.5">BT2 B-112</text></g>
<g transform="translate(1075,938) rotate(-90)"><rect x="-30" y="-7" width="60" height="14" rx="7"/><text y="3.5">BT2 B-113</text></g>
<g transform="translate(1694,1025) rotate(-90)"><rect x="-30" y="-7" width="60" height="14" rx="7"/><text y="3.5">BT2 B-107</text></g>
<g transform="translate(146,1237) rotate(-90)"><rect x="-35" y="-7" width="70" height="14" rx="7"/><text y="3.5">BT2 B-108.a</text></g>
<g transform="translate(152,1350) rotate(-90)"><rect x="-30" y="-7" width="60" height="14" rx="7"/><text y="3.5">BT2 P-109</text></g>
<g transform="translate(235,1350) rotate(-90)"><rect x="-30" y="-7" width="60" height="14" rx="7"/><text y="3.5">BT2 W-114</text></g>
<g transform="translate(554,1329) rotate(-90)"><rect x="-30" y="-7" width="60" height="14" rx="7"/><text y="3.5">BT2 W-112</text></g>
<g transform="translate(1676,1358) rotate(-90)"><rect x="-30" y="-7" width="60" height="14" rx="7"/><text y="3.5">BT2 W-110</text></g>
<g transform="translate(1626,1226) rotate(-90)"><rect x="-25" y="-7" width="50" height="14" rx="7"/><text y="3.5">St-110a</text></g>
<g transform="translate(1694,602) rotate(-90)"><rect x="-30" y="-7" width="60" height="14" rx="7"/><text y="3.5">BT2 P-114</text></g>
<g transform="translate(1853,621) rotate(-90)"><rect x="-30" y="-7" width="60" height="14" rx="7"/><text y="3.5">BT2 P-115</text></g>
<g transform="translate(2219,605) rotate(-90)"><rect x="-30" y="-7" width="60" height="14" rx="7"/><text y="3.5">BT2 P-117</text></g>
<g transform="translate(2331,560) rotate(-90)"><rect x="-30" y="-7" width="60" height="14" rx="7"/><text y="3.5">BT2 W-103</text></g>
<g transform="translate(2444,560) rotate(-90)"><rect x="-30" y="-7" width="60" height="14" rx="7"/><text y="3.5">BT2 W-104</text></g>
<g transform="translate(2960,561) rotate(-90)"><rect x="-33" y="-7" width="66" height="14" rx="7"/><text y="3.5">BT2 BK-103</text></g>
<g transform="translate(2965,737) rotate(-90)"><rect x="-30" y="-7" width="60" height="14" rx="7"/><text y="3.5">BT2 W-106</text></g>
<g transform="translate(1903,865) rotate(-90)"><rect x="-30" y="-7" width="60" height="14" rx="7"/><text y="3.5">BT2 B-106</text></g>
<g transform="translate(2234,905) rotate(-90)"><rect x="-33" y="-7" width="66" height="14" rx="7"/><text y="3.5">BT2 B-105a</text></g>
<g transform="translate(2482,854) rotate(-90)"><rect x="-30" y="-7" width="60" height="14" rx="7"/><text y="3.5">BT2 B-103</text></g>
<g transform="translate(2585,854) rotate(-90)"><rect x="-30" y="-7" width="60" height="14" rx="7"/><text y="3.5">BT2 B-104</text></g>
<g transform="translate(2181,1131) rotate(-90)"><rect x="-30" y="-7" width="60" height="14" rx="7"/><text y="3.5">BT2 B-105</text></g>
<g transform="translate(2965,1128) rotate(-90)"><rect x="-30" y="-7" width="60" height="14" rx="7"/><text y="3.5">BT2 F-101</text></g>
</g>

<!-- ===== small annotations ===== -->
<g class="s">
<text x="122" y="461">Blendkonsole</text><text x="120" y="471">l/d=21/20cm</text>
<text x="312" y="453">Blendkonsole</text><text x="310" y="464">l/d=14,5/20cm</text>
<text x="466" y="454">Unterzug</text><text x="464" y="462">24/50cm</text>
<text x="660" y="460">d=30cm (WU)</text>
<text x="985" y="453">Blendkonsole</text><text x="983" y="464">l/d=14,5/20cm</text>
<text x="1305" y="456">Unterzug</text><text x="1303" y="464">24/50cm</text>
<text x="1522" y="460">d=30cm (WU)</text>
<text x="337" y="648">d=30cm</text><text x="752" y="648">d=30cm</text><text x="1122" y="652">d=30cm</text><text x="1512" y="652">d=30cm</text>
<text x="680" y="697">Unterzug</text><text x="680" y="705">100/85cm</text>
<text x="627" y="534">KB D=18cm</text><text x="640" y="560">KB D=8cm</text><text x="512" y="643">KB D=20cm</text><text x="278" y="690">KB D=18cm</text><text x="515" y="698">KB D=10cm</text><text x="990" y="720">KB D=8cm</text><text x="1290" y="680">KB D=10cm</text><text x="1355" y="602">KB D=13cm</text><text x="1397" y="670">KB D=13cm</text><text x="1387" y="551">KB D=18cm</text>
<text x="222" y="731">UZDB 60/25</text><text x="218" y="738">Achse = 25 UKD</text><text x="340" y="731">UZDB 45/15</text><text x="338" y="738">Achse = 17 UKD</text>
<text x="855" y="731">UZDB 30/15</text><text x="853" y="738">Achse = 20 UKD</text><text x="1200" y="731">UZDB 25/15</text><text x="1198" y="738">Achse = 20 UKD</text>
<text x="1452" y="731">UZDB 25/15</text><text x="1525" y="731">UZDB 40/15</text><text x="1598" y="731">UZDB 30/15</text>
<text x="470" y="773">24/100cm</text><text x="885" y="772">24/100cm</text><text x="475" y="1124">24/100cm</text><text x="177" y="1128">24/100cm</text><text x="975" y="1248">24/100cm</text><text x="1390" y="1246">24/100cm</text>
<text x="330" y="1137">Unterzug</text><text x="330" y="1145">100/85cm</text><text x="1310" y="1126">Unterzug</text><text x="1310" y="1134">110/85cm</text>
<text x="1555" y="862">Unterzug</text><text x="1555" y="870">100/85cm</text>
<text x="254" y="1001">d=30cm</text><text x="660" y="1072">d=30cm</text><text x="1235" y="1026">d=30cm</text><text x="1500" y="964">d=30cm</text>
<text x="400" y="1250">d=30cm</text><text x="310" y="1318">d=30cm (WU)</text><text x="755" y="1330">d=30cm</text><text x="1175" y="1322">d=30cm</text><text x="1525" y="1322">d=30cm</text>
<text x="1462" y="1376">entfällt</text><text x="138" y="1458">d=30cm (WU)</text><text x="1385" y="1446">d=30cm (WU)</text>
<text x="157" y="1041">UZDB 45/30</text><text x="157" y="1048">Achse = 20 UKD</text>
<text x="1390" y="1102">Unterzug</text><text x="1565" y="1117">3*KB D=20cm</text>
<text x="1390" y="947">KB D=18cm</text><text x="1390" y="975">KB D=15cm</text><text x="1400" y="960">KB D=8cm</text>
<text x="2030" y="470">d=30cm</text><text x="1996" y="440">Trennung von Treppenlauf und Wand</text><text x="1994" y="451">mit SCHÖCK-Fugenplatte Typ PL!</text>
<text x="2404" y="470">d=25cm</text><text x="2913" y="459">d=30cm (WU)</text><text x="2015" y="578">d=30cm</text><text x="2062" y="631">d=20cm</text>
<text x="2522" y="562">d=20cm</text><text x="2690" y="568">d=20cm</text><text x="2845" y="628">d=20cm</text><text x="2424" y="690">d=20cm</text>
<text x="1760" y="471">WS 20/10</text><text x="1760" y="478">von OKFFB</text><text x="1760" y="485">bis UKD</text>
<text x="2480" y="533">WD 20/20</text><text x="2480" y="540">UK=1,20 ü FFB</text><text x="2480" y="551">WD 60/60</text>
<text x="2052" y="731">Betonpolster</text><text x="2048" y="739">24/50/150cm</text>
<text x="2745" y="731">Unterzug</text><text x="2745" y="739">24/45cm</text>
<text x="1775" y="770">25/100cm</text><text x="1775" y="912">25/50cm</text>
<text x="2049" y="838">d=20cm</text><text x="1950" y="939">d=24cm (WU)</text><text x="2800" y="902">d=20cm</text><text x="2700" y="937">d=24cm (WU)</text>
<text x="1962" y="1082">d=20cm</text><text x="2316" y="1136">d=24cm (WU)</text>
<text x="2835" y="1125">Streifenfundament</text><text x="2845" y="1135">50/80cm</text>
<text x="2660" y="1128">Streifenfundament</text><text x="2660" y="1135">analog zur Rampen-</text><text x="2660" y="1142">neigung abtreppen</text>
<text x="1630" y="1126">3*KB D=20cm</text><text x="1630" y="1133">Höhe lt. Angabe</text><text x="1630" y="1140">der Bauleitung</text>
<text x="2755" y="748">WD 40/30</text><text x="2755" y="755">OK=UKD</text>
<text x="2560" y="739">WD 30/30</text><text x="2640" y="739">WD 30/30</text><text x="2200" y="750">WD 20/20</text><text x="2200" y="770">WD 30/15</text>
<text x="2245" y="815">KB D=15cm</text><text x="2160" y="858">KB D=18cm</text><text x="2160" y="900">KB D=15cm</text><text x="2670" y="810">KB D=15cm</text><text x="2858" y="937">KB D=18cm</text>
</g>
<text x="2390" y="1011" font-size="8" textLength="370" lengthAdjust="spacingAndGlyphs">Stahlbeton-Abtreppung auf der Rampensohle im Bereich der aufstehenden Blendschale herstellen!</text>

<!-- vertical small texts -->
<g class="s">
<text transform="translate(198,670) rotate(-90)">24/24cm</text>
<text transform="translate(337,885) rotate(-90)">Unterzug 50/85cm</text>
<text transform="translate(286,935) rotate(-90)">entfällt</text>
<text transform="translate(168,940) rotate(-90)">Unterzug 50/85cm</text>
<text transform="translate(735,895) rotate(-90)">Unterzug 50/65cm</text>
<text transform="translate(924,872) rotate(-90)">Unterzug 50/65cm</text>
<text transform="translate(1073,893) rotate(-90)">Unterzug 50/65cm</text>
<text transform="translate(1675,1032) rotate(-90)">Unterzug 50/50cm</text>
<text transform="translate(162,1248) rotate(-90)">Unterzug 50/42cm</text>
<text transform="translate(170,1360) rotate(-90)">d=30cm</text>
<text transform="translate(252,1362) rotate(-90)">d=30cm (WU)</text>
<text transform="translate(571,1340) rotate(-90)">d=30cm (WU)</text>
<text transform="translate(1692,1300) rotate(-90)">d=30cm (WU)</text>
<text transform="translate(1328,780) rotate(-90)">24/100cm</text>
<text transform="translate(1680,610) rotate(-90)">d=30cm</text>
<text transform="translate(1870,630) rotate(-90)">d=20cm</text>
<text transform="translate(2205,612) rotate(-90)">d=20cm</text>
<text transform="translate(1923,880) rotate(-90)">Unterzug 35/71cm</text>
<text transform="translate(2252,915) rotate(-90)">Überzug 24/170cm</text>
<text transform="translate(2471,825) rotate(-90)">Unterzug 50/50cm</text>
<text transform="translate(2575,825) rotate(-90)">Unterzug 50/50cm</text>
<text transform="translate(2165,1140) rotate(-90)">Überzug 24/70cm</text>
<text transform="translate(2978,580) rotate(-90)">Blendkonsole</text>
<text transform="translate(2986,585) rotate(-90)">l/d=14,5/20cm</text>
<text transform="translate(2980,750) rotate(-90)">d=30cm (WU)</text>
<text transform="translate(2980,1150) rotate(-90)">Streifenfundament</text>
<text transform="translate(2988,1138) rotate(-90)">50/80cm</text>
<text transform="translate(1640,1240) rotate(-90)">30/100cm</text>
<text transform="translate(2075,1140) rotate(-90)">Knick Rohdecke Unterseite</text>
<text transform="translate(1694,1330) rotate(-90)">3.90</text>
<text transform="translate(1724,1320) rotate(-90)">4.20</text>
<text transform="translate(1612,720) rotate(-90)">4.00</text>
<text transform="translate(1612,1040) rotate(-90)">6.50</text>
</g>

<!-- cut markers -->
<g class="th"><path d="M340 1050H460M728 1060H830M836 1060H935M1070 1127H1170M1840 930H1918M1840 1030H1918M2175 1030H2238M2162 800H2246M2886 612H2978M2886 845H2978M2886 1057H2978M1695 1130H1773M140 1288H230M1235 1330V1460M1127 1340V1460M578 668V726M578 820V870"/></g>
<g font-size="9">
<text x="342" y="1042">XI</text><text x="450" y="1042">XI</text><text x="728" y="1052">XII</text><text x="818" y="1052">XII</text><text x="840" y="1052">XII</text><text x="926" y="1052">XII</text>
<text x="1068" y="1119">XIII</text><text x="1155" y="1119">XIII</text><text x="1838" y="922">XVII</text><text x="1902" y="922">XVII</text><text x="1838" y="1022">XVII</text><text x="1902" y="1022">XVII</text>
<text x="2172" y="1022">XIX</text><text x="2225" y="1022">XIX</text><text x="2158" y="792">XIIX</text><text x="2230" y="792">XIIX</text>
<text x="2887" y="604">VI</text><text x="2968" y="604">VI</text><text x="2887" y="837">VII</text><text x="2965" y="837">VII</text><text x="2885" y="1049">IIX</text><text x="2966" y="1049">IIX</text>
<text x="1692" y="1122">XIV</text><text x="1760" y="1122">XIV</text><text x="138" y="1280">XIV</text>
</g>
<path d="M340 1050l4-7 4 7zM452 1050l4-7 4 7zM728 1060l4-7 4 7zM822 1060l4-7 4 7zM836 1060l4-7 4 7zM927 1060l4-7 4 7zM1070 1127l4-7 4 7zM1162 1127l4-7 4 7zM1840 930l4-7 4 7zM1910 930l4-7 4 7zM1840 1030l4-7 4 7zM1910 1030l4-7 4 7zM2175 1030l4-7 4 7zM2230 1030l4-7 4 7zM2162 800l4-7 4 7zM2238 800l4-7 4 7zM2886 612l4-7 4 7zM2970 612l4-7 4 7zM2886 845l4-7 4 7zM2970 845l4-7 4 7zM2886 1057l4-7 4 7zM2970 1057l4-7 4 7zM1695 1130l4-7 4 7zM1765 1130l4-7 4 7zM140 1288l4-7 4 7z"/>
<g font-size="9">
<text transform="translate(585,850) rotate(-90)">XVI</text><text transform="translate(595,1140) rotate(-90)">XV</text><text transform="translate(1224,1140) rotate(-90)">XV</text><text transform="translate(1500,1140) rotate(-90)">XV</text>
<text transform="translate(595,1245) rotate(-90)">XV</text><text transform="translate(1224,1245) rotate(-90)">XV</text><text transform="translate(1500,1245) rotate(-90)">XV</text>
<text transform="translate(1131,1370) rotate(-90)">XXII</text><text transform="translate(1131,1470) rotate(-90)">XXII</text><text transform="translate(1256,1340) rotate(-90)">XXI</text><text transform="translate(1256,1470) rotate(-90)">XXI</text>
<text transform="translate(1798,1122) rotate(-90)">X</text><text transform="translate(2426,1160) rotate(-90)">IX</text><text transform="translate(2426,1288) rotate(-90)">IX</text><text transform="translate(2392,910) rotate(-90)">XX</text><text transform="translate(2392,1020) rotate(-90)">XX</text>
<text transform="translate(438,480) rotate(-90)">II</text><text transform="translate(438,562) rotate(-90)">II</text><text transform="translate(212,484) rotate(-90)">I</text><text transform="translate(212,562) rotate(-90)">I</text>
<text transform="translate(1267,480) rotate(-90)">II</text><text transform="translate(1267,562) rotate(-90)">II</text><text transform="translate(1845,482) rotate(-90)">III</text><text transform="translate(1845,560) rotate(-90)">III</text>
<text transform="translate(1948,480) rotate(-90)">IV</text><text transform="translate(1948,560) rotate(-90)">IV</text><text transform="translate(2368,470) rotate(-90)">V</text><text transform="translate(2368,550) rotate(-90)">V</text>
<text transform="translate(2866,478) rotate(-90)">III</text><text transform="translate(2866,555) rotate(-90)">III</text>
</g>

<!-- ===== Section titles ===== -->
<g class="st">
<text x="117" y="1688" textLength="86" lengthAdjust="spacingAndGlyphs">Bauteil “2”</text><text x="117" y="1707" textLength="86" lengthAdjust="spacingAndGlyphs">Schnitt I-I</text>
<text x="271" y="1688" textLength="86" lengthAdjust="spacingAndGlyphs">Bauteil “2”</text><text x="263" y="1707" textLength="101" lengthAdjust="spacingAndGlyphs">Schnitt II-II</text>
<text x="436" y="1688" textLength="86" lengthAdjust="spacingAndGlyphs">Bauteil “2”</text><text x="422" y="1707" textLength="116" lengthAdjust="spacingAndGlyphs">Schnitt III-III</text>
<text x="608" y="1688" textLength="86" lengthAdjust="spacingAndGlyphs">Bauteil “2”</text><text x="601" y="1707" textLength="101" lengthAdjust="spacingAndGlyphs">Schnitt IV-IV</text>
<text x="773" y="1688" textLength="86" lengthAdjust="spacingAndGlyphs">Bauteil “2”</text><text x="773" y="1707" textLength="87" lengthAdjust="spacingAndGlyphs">Schnitt V-V</text>
<text x="940" y="1688" textLength="86" lengthAdjust="spacingAndGlyphs">Bauteil “2”</text><text x="933" y="1707" textLength="99" lengthAdjust="spacingAndGlyphs">Schnitt VI-VI</text>
<text x="1107" y="1688" textLength="86" lengthAdjust="spacingAndGlyphs">Bauteil “2”</text><text x="1091" y="1707" textLength="116" lengthAdjust="spacingAndGlyphs">Schnitt VII-VII</text>
<text x="1273" y="1688" textLength="86" lengthAdjust="spacingAndGlyphs">Bauteil “2”</text><text x="1258" y="1707" textLength="116" lengthAdjust="spacingAndGlyphs">Schnitt IIX-IIX</text>
<text x="1443" y="1688" textLength="86" lengthAdjust="spacingAndGlyphs">Bauteil “2”</text><text x="1435" y="1707" textLength="100" lengthAdjust="spacingAndGlyphs">Schnitt IX-IX</text>
<text x="1610" y="1688" textLength="86" lengthAdjust="spacingAndGlyphs">Bauteil “2”</text><text x="1610" y="1707" textLength="86" lengthAdjust="spacingAndGlyphs">Schnitt X-X</text>
<text x="117" y="1923" textLength="86" lengthAdjust="spacingAndGlyphs">Bauteil “2”</text><text x="110" y="1942" textLength="100" lengthAdjust="spacingAndGlyphs">Schnitt XI-XI</text>
<text x="271" y="1923" textLength="86" lengthAdjust="spacingAndGlyphs">Bauteil “2”</text><text x="255" y="1942" textLength="116" lengthAdjust="spacingAndGlyphs">Schnitt XII-XII</text>
<text x="436" y="1923" textLength="86" lengthAdjust="spacingAndGlyphs">Bauteil “2”</text><text x="414" y="1942" textLength="131" lengthAdjust="spacingAndGlyphs">Schnitt XIII-XIII</text>
<text x="603" y="1923" textLength="86" lengthAdjust="spacingAndGlyphs">Bauteil “2”</text><text x="588" y="1942" textLength="116" lengthAdjust="spacingAndGlyphs">Schnitt XIV-XIV</text>
<text x="774" y="1923" textLength="86" lengthAdjust="spacingAndGlyphs">Bauteil “2”</text><text x="767" y="1942" textLength="101" lengthAdjust="spacingAndGlyphs">Schnitt XV-XV</text>
<text x="985" y="1923" textLength="86" lengthAdjust="spacingAndGlyphs">Bauteil “2”</text><text x="971" y="1942" textLength="115" lengthAdjust="spacingAndGlyphs">Schnitt XVI-XVI</text>
<text x="1227" y="1923" textLength="86" lengthAdjust="spacingAndGlyphs">Bauteil “2”</text><text x="1206" y="1942" textLength="130" lengthAdjust="spacingAndGlyphs">Schnitt XVII-XVII</text>
<text x="1403" y="1923" textLength="86" lengthAdjust="spacingAndGlyphs">Bauteil “2”</text><text x="1381" y="1942" textLength="132" lengthAdjust="spacingAndGlyphs">Schnitt XIIX-XIIX</text>
<text x="1616" y="1925" textLength="86" lengthAdjust="spacingAndGlyphs">Bauteil “2”</text><text x="1601" y="1943" textLength="116" lengthAdjust="spacingAndGlyphs">Schnitt XIX-XIX</text>
<text x="1837" y="1923" textLength="86" lengthAdjust="spacingAndGlyphs">Bauteil “2”</text><text x="1830" y="1942" textLength="101" lengthAdjust="spacingAndGlyphs">Schnitt XX-XX</text>
<text x="1853" y="1407" textLength="86" lengthAdjust="spacingAndGlyphs">Bauteil “2”</text><text x="1839" y="1427" textLength="115" lengthAdjust="spacingAndGlyphs">Schnitt XXI-XXI</text>
<text x="2103" y="1407" textLength="86" lengthAdjust="spacingAndGlyphs">Bauteil “2”</text><text x="2080" y="1427" textLength="131" lengthAdjust="spacingAndGlyphs">Schnitt XXII-XXII</text>
<text x="2170" y="1777" textLength="61" lengthAdjust="spacingAndGlyphs">Detail 1</text>
<text x="2095" y="1797" textLength="211" lengthAdjust="spacingAndGlyphs">Sollrissfugen KG-Außenwände</text>
<text x="2128" y="1816" textLength="146" lengthAdjust="spacingAndGlyphs">(insg. 32 + herst.)</text>
<text x="2178" y="1835" textLength="46" lengthAdjust="spacingAndGlyphs">M 1:25</text>
<text x="2503" y="1777" textLength="61" lengthAdjust="spacingAndGlyphs">Detail 2</text>
<text x="2428" y="1797" textLength="210" lengthAdjust="spacingAndGlyphs">Eckausbildung KG-Außenwände</text>
<text x="2460" y="1816" textLength="147" lengthAdjust="spacingAndGlyphs">(insg. 13 + herst.)</text>
<text x="2510" y="1835" textLength="47" lengthAdjust="spacingAndGlyphs">M 1:25</text>
</g>
<g class="th">
<path d="M117 1691H203M117 1710H203M271 1691H357M263 1710H364M436 1691H522M422 1710H538M608 1691H694M601 1710H702M773 1691H859M773 1710H860M940 1691H1026M933 1710H1032M1107 1691H1193M1091 1710H1207M1273 1691H1359M1258 1710H1374M1443 1691H1529M1435 1710H1535M1610 1691H1696M1610 1710H1696"/>
<path d="M117 1926H203M110 1945H210M271 1926H357M255 1945H371M436 1926H522M414 1945H545M603 1926H689M588 1945H704M774 1926H860M767 1945H868M985 1926H1071M971 1945H1086M1227 1926H1313M1206 1945H1336M1403 1926H1489M1381 1945H1513M1616 1928H1702M1601 1946H1717M1837 1926H1923M1830 1945H1931M1853 1410H1939M1839 1430H1954M2103 1410H2189M2080 1430H2211"/>
<path d="M2170 1780H2231M2095 1800H2306M2128 1819H2274M2178 1838H2224M2503 1780H2564M2428 1800H2638M2460 1819H2607M2510 1838H2557"/>
</g>

<!-- ===== Section row 1 ===== -->
<g>
<g transform="translate(150,0)">
<rect x="0" y="1766" width="13" height="18" fill="#8c1414" stroke="#000"/><rect x="0" y="1784" width="13" height="10" fill="#111"/>
<rect x="18" y="1766" width="7" height="42" fill="#e8e8e8" stroke="#000" stroke-width=".8"/>
<path class="g" d="M-25 1794H13V1808H28V1822H13V1840H0V1808H-25Z"/>
<path class="th" d="M-8 1740H28M-8 1751H28M-42 1794V1840M44 1794V1840M-6 1862H22"/>
<text class="s" x="-34" y="1790">-15</text><path d="M-22 1791l3 5 3-5z"/>
</g>
<g transform="translate(316,0)">
<rect x="0" y="1766" width="10" height="18" fill="#8c1414" stroke="#000"/><rect x="0" y="1784" width="10" height="10" fill="#111"/>
<rect x="14" y="1766" width="7" height="42" fill="#e8e8e8" stroke="#000" stroke-width=".8"/>
<path class="g" d="M-27 1794H10V1808H24V1822H10V1825H0V1808H-27Z"/>
<path class="th" d="M0 1825V1840M14 1822V1840M-8 1740H24M-8 1751H24M-42 1794V1840M40 1794V1840M-4 1862H20"/>
<text class="s" x="-34" y="1790">-15</text><path d="M-22 1791l3 5 3-5z"/>
</g>
<g transform="translate(479,0)">
<rect x="0" y="1766" width="12" height="18" fill="#8c1414" stroke="#000"/><rect x="0" y="1784" width="12" height="10" fill="#111"/>
<rect x="16" y="1766" width="7" height="42" fill="#e8e8e8" stroke="#000" stroke-width=".8"/>
<path class="g" d="M-27 1794H12V1808H24V1822H12V1840H0V1808H-27Z"/>
<path class="th" d="M-8 1740H24M-8 1751H24M-42 1794V1840M40 1794V1840M-4 1862H20"/>
<text class="s" x="-34" y="1790">-15</text><path d="M-22 1791l3 5 3-5z"/>
</g>
<g transform="translate(648,0)">
<rect x="0" y="1766" width="11" height="28" fill="#8c1414" stroke="#000"/><rect x="0" y="1784" width="11" height="10" fill="#111"/>
<rect x="14" y="1766" width="7" height="42" fill="#e8e8e8" stroke="#000" stroke-width=".8"/>
<path class="g" d="M-2 1794H11V1808H22V1822H11V1840H-2Z"/>
<path class="ds" d="M-30 1794H-2M-30 1822H-2M-30 1794V1822"/>
<path class="th" d="M-8 1740H22M-8 1751H22M-42 1794V1840M40 1794V1840M-4 1862H20"/>
<text class="s" x="-38" y="1790">-15</text>
</g>
<g transform="translate(816,0)">
<path class="g" d="M0 1766H12V1840H0Z"/>
<rect x="14" y="1766" width="7" height="44" fill="#e8e8e8" stroke="#000" stroke-width=".8"/>
<path class="ds" d="M-28 1794H0M-28 1822H0M-28 1794V1822"/>
<path class="th" d="M-6 1740H22M-6 1751H22M-40 1794V1840M38 1794V1840M-4 1862H20"/>
<text class="s" x="-36" y="1790">-15</text>
</g>
<g transform="translate(982,0)">
<rect x="0" y="1766" width="13" height="18" fill="#8c1414" stroke="#000"/><rect x="0" y="1784" width="13" height="10" fill="#111"/>
<rect x="18" y="1766" width="7" height="42" fill="#e8e8e8" stroke="#000" stroke-width=".8"/>
<path class="g" d="M-25 1794H13V1808H28V1822H13V1840H0V1808H-25Z"/>
<path class="th" d="M-8 1740H28M-8 1751H28M-42 1794V1840M44 1794V1840M-6 1862H22"/>
<text class="s" x="-34" y="1790">-15</text><path d="M-22 1791l3 5 3-5z"/>
</g>
<g transform="translate(1147,0)">
<path class="g" d="M0 1766H13V1794H0Z"/>
<rect x="18" y="1766" width="7" height="42" fill="#e8e8e8" stroke="#000" stroke-width=".8"/>
<path class="g" d="M-25 1794H13V1808H28V1822H13V1840H0V1808H-25Z"/>
<path class="th" d="M-8 1740H28M-8 1751H28M-42 1794V1840M44 1794V1840M-6 1862H22"/>
<text class="s" x="-34" y="1790">-15</text>
</g>
<g transform="translate(1316,0)">
<path class="g" d="M-26 1786H18V1833H4V1801H-26Z"/>
<path class="th" d="M-40 1786V1833M32 1786V1833M-4 1862H14"/>
<text class="s" x="-22" y="1782">-4</text><text class="s" x="-6" y="1778">OK-Rampe</text>
</g>
<g transform="translate(1486,0)">
<path class="g" d="M-7 1766H8V1802H31V1815H8V1846H-12V1815H-7Z"/>
<path class="th" d="M-12 1740H20M40 1790V1846M-30 1850L-12 1830M-6 1862H14"/>
<text class="s" x="12" y="1799">OK-Rampe</text>
<text class="s" transform="translate(-48,1820) rotate(-90)">Streifenfundament</text>
<text class="s" transform="translate(-40,1820) rotate(-90)">analog zur Rampen-</text>
<text class="s" transform="translate(-32,1820) rotate(-90)">neigung abtreppen</text>
</g>
<g transform="translate(1645,0)">
<rect x="0" y="1747" width="14" height="29" fill="url(#ph)" stroke="#000"/><rect x="0" y="1776" width="14" height="8" fill="#111"/>
<path class="g" d="M0 1784H52V1795H14V1849H0Z"/>
<path class="ds" d="M14 1808H52M14 1828H52"/>
<path class="th" d="M70 1784V1830M0 1860H14"/>
<text class="s" x="45" y="1778">+36</text><text class="s" x="45" y="1806">-15</text><text class="s" x="45" y="1836">-45</text>
</g>
</g>

<!-- ===== Section row 2 ===== -->
<g>
<g transform="translate(160,0)">
<path class="g" d="M-36 2050H36V2066H12V2097H-12V2066H-36Z"/><path class="lk" d="M-36 2050H36"/>
<path class="th" d="M-52 2050V2097M50 2050V2097M-12 2121H12"/><text class="s" x="-40" y="2044">-15</text>
</g>
<g transform="translate(314,0)">
<rect x="-5" y="2022" width="12" height="21" fill="#8c1414" stroke="#000"/><rect x="-5" y="2043" width="12" height="7" fill="#111"/>
<path class="g" d="M-36 2050H36V2066H12V2097H-12V2066H-36Z"/><path class="lk" d="M-36 2050H36"/>
<path class="th" d="M-52 2050V2097M50 2050V2097M-12 2121H12M-10 2008H12"/><text class="s" x="-40" y="2044">-15</text>
</g>
<g transform="translate(479,0)">
<rect x="-5" y="2022" width="14" height="21" fill="#fff" stroke="#000"/><path class="th" d="M-5 2036L9 2022M-5 2043L9 2029"/><rect x="-5" y="2043" width="14" height="7" fill="#111"/>
<path class="g" d="M-36 2050H36V2066H12V2097H-12V2066H-36Z"/><path class="lk" d="M-36 2050H36"/>
<path class="th" d="M-52 2050V2097M50 2050V2097M-12 2121H12"/><text class="s" x="-40" y="2044">-15</text>
</g>
<g transform="translate(646,0)">
<rect x="2" y="2022" width="13" height="21" fill="url(#ph)" stroke="#000"/><rect x="2" y="2043" width="13" height="7" fill="#111"/>
<path class="g" d="M-34 2050H36V2064H14V2078H-14V2064H-34Z"/><path class="lk" d="M-34 2050H36"/>
<path class="th" d="M-50 2050V2078M48 2050V2078M-12 2121H12M-8 2008H14"/><text class="s" x="-38" y="2044">-15</text>
</g>
<g transform="translate(817,0)">
<rect x="-8" y="2022" width="15" height="21" fill="url(#ph)" stroke="#000"/><rect x="-8" y="2043" width="15" height="7" fill="#111"/>
<path class="g" d="M-8 2050H45V2064H21V2097H-55V2074H-32V2056H-8Z"/><path class="lk" d="M-8 2050H45"/>
<path class="th" d="M60 2050V2097M-70 2050V2097M-30 2121H21M-25 2140H25M-28 2008H18"/><text class="s" x="-32" y="2050">-25</text><text class="s" x="-62" y="2072">-58</text><text class="s" x="-40" y="2108">-100</text><text class="s" x="22" y="2044">-15</text>
</g>
<g transform="translate(1028,0)">
<rect x="-54" y="2022" width="15" height="21" fill="#8c1414" stroke="#000"/><rect x="-54" y="2043" width="15" height="7" fill="#111"/>
<rect x="56" y="2022" width="16" height="21" fill="#8c1414" stroke="#000"/><rect x="56" y="2043" width="16" height="7" fill="#111"/>
<path class="g" d="M-69 2050H89V2068H28V2097H-23V2068H-69Z"/><path class="lk" d="M-69 2050H89"/>
<path class="th" d="M-82 2050V2097M100 2050V2097M-23 2121H28M-54 2008H72"/><text class="s" x="-38" y="2044">-15</text><text class="s" x="-35" y="2108">-100</text>
</g>
<g>
<rect x="1265" y="2022" width="13" height="22" fill="url(#ph)" stroke="#000"/><rect x="1265" y="2044" width="13" height="8" fill="#111"/>
<path class="g" d="M1265 2052H1300V2066H1278V2093H1243V2077H1265Z"/>
<path class="th" d="M1228 2040V2093M1314 2052V2085M1262 2110H1278"/>
<text class="s" x="1282" y="2048">+36</text><text class="s" x="1230" y="2070">-15</text><text class="s" x="1276" y="2104">-35</text>
</g>
<g>
<rect x="1441" y="1969" width="16" height="20" fill="#8c1414" stroke="#000"/><rect x="1441" y="1989" width="16" height="8" fill="#111"/>
<path class="g" d="M1441 1997H1457V2079H1505V2093H1441V2066H1359V2051H1441Z"/>
<path class="ds" d="M1359 2079H1441M1359 2091H1441"/>
<rect x="1413" y="2093" width="76" height="26" fill="none" stroke="#000"/>
<g class="oe"><rect x="1377" y="2090" width="31" height="18"/></g><path class="ob" d="M1377 2090L1392 2099L1377 2108ZM1408 2090L1392 2099L1408 2108Z"/>
<path class="th" d="M1520 1995V2130M1535 1995V2130M1378 2128H1470M1405 2150H1470M1480 2133L1460 2098"/>
<g class="bd" transform="translate(1478,2031) rotate(-90)"><rect x="-22" y="-7" width="44" height="14" rx="7"/><text y="3.5">B-105a</text></g>
<g class="bd" transform="translate(1527,2134)"><rect x="-20" y="-7" width="40" height="14" rx="7"/><text y="3.5">BP-101</text></g>
<text class="s" x="1507" y="2152">Betonpolster</text><text class="s" x="1507" y="2160">24/50/150cm</text>
<text class="s" transform="translate(1490,2000) rotate(-90)">Überzug 24/170cm</text>
<text class="s" x="1377" y="2115">WD 60/30</text><text class="s" x="1377" y="2121">OK=UKD</text>
<text class="s" x="1418" y="2046">+36</text><text class="s" x="1460" y="2075">-15</text>
</g>
<g>
<rect x="1730" y="1968" width="14" height="27" fill="#8c1414" stroke="#000"/><rect x="1730" y="1995" width="14" height="8" fill="#111"/>
<path class="g" d="M1579 2050L1732 2024V2003H1744V2043L1579 2064Z"/>
<path class="th" d="M1604 1987H1743M1604 2090H1743M1604 1983V2062M1757 2003V2064M1718 2020V1990"/>
<text class="s" x="1660" y="1983">2.24</text><text class="s" x="1660" y="2087">2.44</text><text class="s" x="1580" y="2046">+36</text>
<text class="s" transform="translate(1625,2037) rotate(-10)">15 % Gefälle</text>
</g>
<g>
<rect x="1871" y="2023" width="12" height="56" fill="#e8e8e8" stroke="#000"/>
<rect x="1886" y="2023" width="12" height="18" fill="#8c1414" stroke="#000"/><rect x="1886" y="2041" width="12" height="8" fill="#111"/>
<path class="g" d="M1886 2049H1919V2061H1900V2117H1886V2096H1848V2084H1886Z"/>
<path class="th" d="M1930 2049V2072M1836 2084V2100M1885 2128H1900M1928 2080L1896 2090"/>
<text class="s" x="1915" y="2045">-15</text>
<text class="s" x="1800" y="2054">Abtreppung</text><text class="s" x="1790" y="2061">für Blendschale</text>
<text class="s" x="1930" y="2080">Anschluß Rampensohle</text><text class="s" x="1930" y="2087">an KG-Wand mit</text><text class="s" x="1930" y="2094">Halfen Rückbiegeanschluß</text><text class="s" x="1930" y="2101">HBT 220-10/15-5-1250</text><text class="s" x="1930" y="2108">Stückzahl nach örtl. Aufmaß</text>
</g>
</g>

<!-- XXI / XXII -->
<path class="g" d="M1861 1488H1876V1557H1863V1530H1861Z"/>
<path class="g" d="M1914 1488H1929V1525H1952V1542H1914Z"/>
<path class="th" d="M1876 1488H1914M1858 1462H1932M1853 1488V1557M1962 1488V1542M1858 1576H1932"/>
<path class="ds" d="M1876 1525H1914"/>
<text class="s" x="1858" y="1458">5 25  70  25</text><text class="s" x="1862" y="1574">30  70  25</text><text class="s" x="1932" y="1485">+7</text><text class="s" x="1932" y="1521">-58</text>
<path class="g" d="M2130 1525H2176V1542H2147V1557H2130Z"/>
<path class="th" d="M2186 1525V1542M2128 1570H2148"/><text class="s" x="2150" y="1519">-58</text><text class="s" x="2188" y="1537">30</text>

<!-- Detail 1 -->
<rect x="2163" y="1867" width="77" height="6" fill="#999" stroke="#000" stroke-width=".6"/>
<rect x="2163" y="1873" width="77" height="22" fill="#d4f4d4" stroke="#000" stroke-width=".6"/>
<rect x="2163" y="1895" width="77" height="6" fill="#999" stroke="#000" stroke-width=".6"/>
<path class="ds" d="M2163 1880H2240M2163 1888H2240"/>
<path class="lk" d="M2201 1867V1884M2196 1884H2210M2201 1895V1901"/>
<text class="s" x="2165" y="1863">außen</text><text class="s" x="2165" y="1911">innen</text>
<text class="s" x="2132" y="1934">Sollrissfugenprofil (z. B. Pentaflex FTS)</text>
<text class="s" x="2132" y="1944">an allen Plattenstößen der Elementwände</text>
<text class="s" x="2132" y="1955">mit fachgerechtem Anschluß an das</text>
<text class="s" x="2132" y="1965">Sohlen/Wand-Profil.</text>
<!-- Detail 2 -->
<path d="M2499 1867H2572V1873H2506V1940H2499Z" fill="#999" stroke="#000" stroke-width=".6"/>
<path d="M2506 1873H2572V1895H2528V1940H2506Z" fill="#d4f4d4" stroke="#000" stroke-width=".6"/>
<path d="M2528 1895H2572V1901H2534V1940H2528Z" fill="#999" stroke="#000" stroke-width=".6"/>
<path class="lk" d="M2510 1898L2518 1880L2530 1888"/>
<text class="s" x="2553" y="1863">außen</text><text class="s" x="2550" y="1914">innen</text>
<text class="s" x="2460" y="1968">Sollrissfugenprofil (z. B. Pentaflex FTS-Eck)</text>
<text class="s" x="2460" y="1978">an allen Wandecken der Elementwände</text>
<text class="s" x="2460" y="1988">mit fachgerechtem Anschluß an das</text>
<text class="s" x="2460" y="1999">Sohlen/Wand-Profil.</text>
</svg>
</body></html>
